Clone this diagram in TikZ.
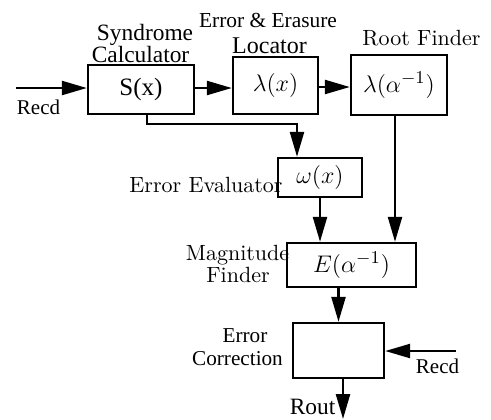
\documentclass[tikz,border=0pt]{standalone}
\usepackage{fontspec}
\usepackage{tikz}
\usetikzlibrary{arrows.meta,positioning,calc}
\setmainfont{Liberation Serif}
\newfontfamily\cmr{Latin Modern Roman}

\begin{document}
\begin{tikzpicture}[
    x=0.5pt,y=-0.5pt,
    box/.style={draw,line width=1.2pt,inner sep=2pt,font=\fontsize{12.5}{14}\selectfont},
    arr/.style={-{Triangle[length=12.5pt,width=7pt]},line width=1.2pt},
    tlbl/.style={anchor=base,inner sep=0pt,font=\fontsize{11.7}{13}\selectfont},
    clbl/.style={anchor=base,inner sep=0pt,font=\cmr\fontsize{11}{13}\selectfont}
  ]
    \useasboundingbox (0,0) rectangle (491,419);
    % blocks
    \node[box,minimum width=53pt,minimum height=24.5pt] (syn) at (141,89.5) {S(x)};
    \node[box,minimum width=42.5pt,minimum height=28.5pt] (loc) at (275.5,85.5) {$\lambda(x)$};
    \node[box,minimum width=48pt,minimum height=30pt] (root) at (399,85) {$\lambda(\alpha^{-1})$};
    \node[box,minimum width=42pt,minimum height=19.5pt] (eval) at (320,177.5) {$\omega(x)$};
    \node[box,minimum width=64.5pt,minimum height=22pt] (mag) at (351.5,265) {$E(\alpha^{-1})$};
    \node[box,minimum width=45.5pt,minimum height=27.5pt] (corr) at (338.5,350.5) {};
    % labels
    \node[tlbl] (synA) at (145,40) {Syndrome};
    \node[tlbl] (synB) at (140.5,62) {Calculator};
    \node[tlbl,font=\fontsize{10.7}{12}\selectfont] (locA) at (268,27) {Error \& Erasure};
    \node[tlbl,font=\fontsize{12}{13}\selectfont] (locB) at (269.5,53) {Locator};
    \node[clbl] (rootA) at (421.5,45) {Root Finder};
    \node[clbl] (evalA) at (206,192) {Error Evaluator};
    \node[clbl] (magA) at (237.5,260) {Magnitude};
    \node[clbl] (magB) at (238,282) {Finder};
    \node[tlbl,font=\fontsize{10.6}{12}\selectfont] (corrA) at (245,342) {Error};
    \node[tlbl,font=\fontsize{10.6}{12}\selectfont] (corrB) at (237.5,365) {Correction};
    \node[tlbl,font=\fontsize{10.5}{12}\selectfont] (recdL) at (38.5,114) {Recd};
    \node[tlbl,font=\fontsize{10.5}{12}\selectfont] (recdR) at (437.5,373) {Recd};
    \node[tlbl] (rout) at (312.5,414) {Rout};
    % free ends
    \coordinate (inL) at (16,88);
    \coordinate (inR) at (456,351);
    \coordinate (out) at (343,419);
    % connectors
    \draw[arr] (inL) -- (syn.west |- inL);
    \draw[arr] (syn.east |- inL) -- (loc.west |- inL);
    \draw[arr] (loc.east |- 0,87) -- (root.west |- 0,87);
    \draw[arr] ([xshift=3pt]syn.south) -- ++(0,9) -| ([xshift=-11.5pt]eval.north);
    \draw[arr] (eval.south) -- (eval.south |- mag.north);
    \draw[arr] ([xshift=-2pt]root.south) -- ([xshift=-2pt]root.south |- mag.north);
    \draw[arr] (corr.north |- mag.south) -- (corr.north);
    \draw[arr] (inR) -- (corr.east |- inR);
    \draw[arr] (corr.south -| out) -- (out);
  \end{tikzpicture}
\end{document}
